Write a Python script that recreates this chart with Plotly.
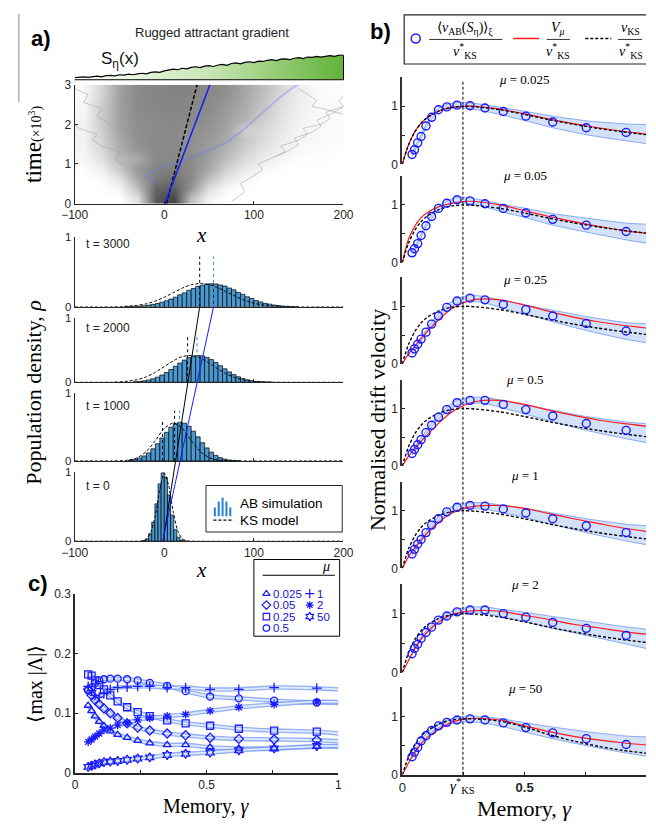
import plotly.graph_objects as go

W, H = 656, 831
SANS = "Liberation Sans, Arial, sans-serif"
SERIF = "Liberation Serif, Times New Roman, serif"
AXC = "#262626"
BLUE = "#1a1aff"
HISTC = "#4a98d0"

# ====================== DATA ======================
# --- panel a: rugged attractant profile S_eta(x)
grad_x = [-100,-95,-90,-85,-80,-75,-70,-65,-60,-55,-50,-45,-40,-35,-30,-25,-20,-15,-10,-5,0,5,10,15,20,25,30,35,40,45,50,55,60,65,70,75,80,85,90,95,100,105,110,115,120,125,130,135,140,145,150,155,160,165,170,175,180,185,190,195,200]
grad_s = [0.07,0.09,0.10,0.08,0.11,0.12,0.10,0.14,0.15,0.13,0.17,0.16,0.19,0.17,0.20,0.22,0.20,0.25,0.27,0.25,
          0.30,0.33,0.36,0.34,0.39,0.37,0.42,0.44,0.41,0.46,0.48,0.45,0.50,0.52,0.49,0.55,0.57,0.54,0.59,0.61,
          0.58,0.63,0.62,0.66,0.68,0.65,0.70,0.71,0.68,0.73,0.75,0.72,0.77,0.76,0.79,0.77,0.80,0.82,0.79,0.83,0.84]

# --- panel a: trajectory density (grey cloud)
heat_x = [-90,-70,-50,-30,-10,10,30,50,70,90,110,130,150,170,190]
heat_t = [0.125,0.375,0.625,0.875,1.125,1.375,1.625,1.875,2.125,2.375,2.625,2.875]
heat_z = [
    [0,0,0,0.15,0.78,0.88,0.30,0.05,0,0,0,0,0,0,0],
    [0,0,0.04,0.30,0.72,0.76,0.50,0.15,0.03,0,0,0,0,0,0],
    [0,0.02,0.14,0.42,0.62,0.66,0.55,0.30,0.12,0.04,0,0,0,0,0],
    [0.01,0.07,0.26,0.48,0.58,0.60,0.55,0.40,0.22,0.10,0.04,0.01,0,0,0],
    [0.04,0.14,0.33,0.40,0.55,0.56,0.55,0.45,0.30,0.17,0.09,0.04,0.01,0.01,0],
    [0.05,0.18,0.38,0.50,0.55,0.55,0.52,0.46,0.35,0.23,0.13,0.07,0.03,0.02,0.01],
    [0.06,0.21,0.41,0.52,0.55,0.55,0.52,0.48,0.40,0.27,0.17,0.09,0.04,0.03,0.02],
    [0.06,0.23,0.43,0.53,0.55,0.55,0.53,0.50,0.42,0.22,0.19,0.11,0.05,0.03,0.02],
    [0.05,0.24,0.44,0.54,0.55,0.56,0.55,0.52,0.45,0.35,0.23,0.13,0.06,0.03,0.02],
    [0.04,0.24,0.45,0.55,0.56,0.57,0.56,0.54,0.47,0.38,0.26,0.15,0.07,0.03,0.02],
    [0.03,0.22,0.45,0.55,0.57,0.58,0.57,0.55,0.50,0.40,0.29,0.17,0.08,0.03,0.02],
    [0.03,0.20,0.44,0.55,0.57,0.58,0.58,0.56,0.52,0.42,0.31,0.19,0.09,0.02,0.01],
]
# faint individual trajectories
path1_x = [75,90,85,100,110,105,120,135,130,150,160,155,175,185,180,200]
path1_t = [0.05,0.3,0.5,0.7,0.85,1.0,1.15,1.3,1.45,1.6,1.75,1.9,2.0,2.15,2.3,2.45]
path2_x = [125,140,150,145,165,175,170,190,200,195,200]
path2_t = [1.2,1.35,1.5,1.65,1.8,1.95,2.1,2.3,2.45,2.6,2.7]
path3_x = [-40,-55,-50,-70,-80,-75,-95,-100]
path3_t = [0.9,1.1,1.3,1.45,1.6,1.75,1.9,2.0]
path4_x = [-60,-75,-70,-90,-85,-100]
path4_t = [2.0,2.2,2.4,2.55,2.75,2.9]
path5_x = [150,160,170,165,185,200]
path5_t = [2.9,2.75,2.6,2.45,2.35,2.25]
blue_path_x = [-10,-20,-5,10,30,50,70,85,100,115,130,145,150]
blue_path_t = [0.5,0.7,0.9,1.0,1.15,1.35,1.55,1.8,2.1,2.4,2.7,2.95,3.0]
mean_t = [0, 3]
ab_mean_x = [0.7, 50.9]
ks_mean_x = [2.5, 36.6]

# --- panel a: population density histograms
h3000_x = [-42.5,-37.5,-32.5,-27.5,-22.5,-17.5,-12.5,-7.5,-2.5,2.5,7.5,12.5,17.5,22.5,27.5,32.5,37.5,42.5,47.5,52.5,57.5,62.5,67.5,72.5,77.5,82.5,87.5,92.5,97.5,102.5,107.5,112.5,117.5,122.5,127.5,132.5,137.5,142.5,147.5]
h3000_y = [0.003,0.005,0.007,0.011,0.017,0.025,0.036,0.048,0.067,0.086,0.112,0.139,0.172,0.2,0.237,0.263,0.293,0.31,0.327,0.331,0.328,0.313,0.298,0.27,0.244,0.208,0.18,0.144,0.12,0.09,0.071,0.05,0.039,0.026,0.019,0.011,0.008,0.005,0.003]
ks3000_x = [-100,-70,-60,-50,-40,-30,-20,-10,0,10,20,30,40,50,60,70,80,90,100,110,120,130,140,150,200]
ks3000_y = [0,0.0,0.001,0.004,0.01,0.022,0.045,0.083,0.138,0.203,0.268,0.317,0.335,0.318,0.272,0.21,0.148,0.093,0.053,0.027,0.012,0.005,0.002,0.0,0]
h2000_x = [-32.5,-27.5,-22.5,-17.5,-12.5,-7.5,-2.5,2.5,7.5,12.5,17.5,22.5,27.5,32.5,37.5,42.5,47.5,52.5,57.5,62.5,67.5,72.5,77.5,82.5,87.5,92.5,97.5,102.5,107.5,112.5,117.5]
h2000_y = [0.008,0.014,0.022,0.036,0.055,0.08,0.113,0.153,0.2,0.25,0.3,0.347,0.385,0.41,0.42,0.413,0.39,0.355,0.31,0.26,0.21,0.162,0.12,0.086,0.059,0.039,0.025,0.015,0.009,0.005,0.003]
ks2000_x = [-100,-60,-50,-40,-30,-20,-10,0,10,20,30,40,50,60,70,80,90,100,110,120,200]
ks2000_y = [0,0.001,0.006,0.018,0.042,0.086,0.156,0.245,0.336,0.402,0.42,0.38,0.3,0.208,0.125,0.066,0.03,0.012,0.004,0.001,0]
h1000_x = [-37.5,-32.5,-27.5,-22.5,-17.5,-12.5,-7.5,-2.5,2.5,7.5,12.5,17.5,22.5,27.5,32.5,37.5,42.5,47.5,52.5,57.5,62.5,67.5,72.5,77.5,82.5]
h1000_y = [0.012,0.023,0.043,0.073,0.118,0.178,0.253,0.337,0.422,0.497,0.549,0.57,0.556,0.511,0.439,0.355,0.269,0.192,0.129,0.081,0.048,0.027,0.014,0.007,0.003]
ks1000_x = [-100,-60,-50,-40,-30,-20,-10,0,10,20,30,40,50,60,70,80,200]
ks1000_y = [0,0.0,0.002,0.012,0.047,0.14,0.3,0.48,0.56,0.48,0.3,0.14,0.047,0.012,0.002,0.0,0]
h0_x = [-22.75,-19.25,-15.75,-12.25,-8.75,-5.25,-1.75,1.75,5.25,8.75,12.25,15.75,19.25,22.75]
h0_y = [0.008,0.033,0.108,0.275,0.542,0.832,0.994,0.926,0.671,0.379,0.167,0.057,0.015,0.003]
ks0_x = [-100,-30,-25,-20,-15,-10,-5,0,5,10,15,20,25,30,200]
ks0_y = [0,0.0,0.004,0.03,0.13,0.37,0.75,0.99,0.8,0.42,0.15,0.035,0.005,0.0,0]
hist_labels = ["t = 3000", "t = 2000", "t = 1000", "t = 0"]
# mean markers (x position, height) per histogram
ks_mark = [[39.5, 0.72], [26, 0.75], [11.5, 0.74], None]
ks_mark_extra = [None, None, [-2, 0.6], None]
ab_mark = [[55, 0.72], [36.5, 0.75], [17, 0.74], None]

# --- panel b: normalised drift velocity
mu_labels = ["0.025", "0.05", "0.25", "0.5", "1", "2", "50"]
gamma_b = [0.04,0.05,0.063,0.077,0.097,0.12,0.148,0.182,0.224,0.277,0.338,0.413,0.505,0.615,0.752,0.915]
ab_0025 = [0.17,0.25,0.37,0.48,0.66,0.81,0.94,0.99,1.02,1.01,0.97,0.91,0.83,0.73,0.63,0.55]
ab_005  = [0.17,0.24,0.33,0.47,0.64,0.80,0.94,1.03,1.09,1.07,1.02,0.94,0.86,0.75,0.65,0.54]
ab_025  = [0.19,0.26,0.34,0.43,0.55,0.69,0.83,0.98,1.09,1.14,1.11,1.03,0.94,0.83,0.70,0.57]
ab_05   = [0.22,0.29,0.37,0.46,0.58,0.71,0.85,0.98,1.10,1.14,1.14,1.07,0.98,0.87,0.74,0.62]
ab_1    = [0.25,0.33,0.42,0.50,0.62,0.75,0.86,0.98,1.06,1.09,1.08,1.03,0.96,0.86,0.74,0.62]
ab_2    = [0.32,0.41,0.48,0.58,0.68,0.77,0.89,0.96,1.03,1.06,1.06,1.00,0.94,0.85,0.75,0.63]
ab_50   = [0.31,0.39,0.47,0.58,0.67,0.76,0.84,0.90,0.94,0.96,0.94,0.89,0.81,0.72,0.62,0.52]
band_end = [0.52, 0.50, 0.53, 0.57, 0.575, 0.57, 0.485]     # band centre at gamma = 1
band_hw = [0.03,0.03,0.03,0.03,0.03,0.035,0.035,0.04,0.045,0.05,0.055,0.065,0.08,0.1,0.12,0.145,0.165]
gamma_curve = [0,0.025,0.05,0.075,0.1,0.15,0.2,0.25,0.3,0.4,0.5,0.6,0.7,0.8,0.9,1.0]
vmu_0025 = [0,0.33,0.55,0.70,0.80,0.92,0.98,1.00,1.00,0.95,0.87,0.78,0.70,0.63,0.57,0.52]
vmu_005  = [0,0.40,0.62,0.77,0.86,0.97,1.03,1.06,1.06,1.00,0.90,0.80,0.71,0.63,0.56,0.51]
vmu_025  = [0,0.17,0.30,0.43,0.55,0.77,0.95,1.06,1.12,1.11,1.02,0.91,0.81,0.73,0.67,0.62]
vmu_05   = [0,0.17,0.30,0.42,0.53,0.75,0.93,1.05,1.12,1.14,1.07,0.97,0.88,0.80,0.74,0.69]
vmu_1    = [0,0.20,0.35,0.48,0.60,0.80,0.95,1.04,1.08,1.09,1.04,0.95,0.86,0.78,0.70,0.64]
vmu_2    = [0,0.20,0.40,0.56,0.68,0.86,0.98,1.03,1.05,1.04,0.97,0.90,0.82,0.76,0.70,0.65]
vmu_50   = [0,0.20,0.38,0.52,0.63,0.78,0.90,0.95,0.97,0.94,0.84,0.74,0.66,0.60,0.55,0.51]
vks_std  = [0,0.33,0.55,0.70,0.80,0.92,0.98,1.00,0.99,0.94,0.86,0.77,0.69,0.62,0.56,0.51]
vks_50   = [0,0.30,0.50,0.65,0.75,0.87,0.94,0.96,0.96,0.92,0.82,0.69,0.58,0.49,0.42,0.37]
gamma_star = 0.248

# --- panel c: <max|Lambda|>
gamma_c = [0.05,0.063,0.076,0.092,0.11,0.134,0.162,0.198,0.238,0.284,0.35,0.42,0.513,0.622,0.756,0.918]
lam_0025 = [0.113,0.104,0.095,0.086,0.079,0.070,0.064,0.059,0.054,0.050,0.047,0.047,0.043,0.041,0.041,0.044]
lam_005  = [0.140,0.130,0.122,0.115,0.108,0.100,0.092,0.083,0.076,0.071,0.066,0.063,0.059,0.057,0.056,0.055]
lam_025  = [0.165,0.163,0.155,0.147,0.140,0.130,0.120,0.110,0.102,0.095,0.088,0.083,0.079,0.074,0.071,0.069]
lam_05   = [0.138,0.143,0.150,0.155,0.157,0.158,0.158,0.157,0.155,0.151,0.146,0.137,0.128,0.125,0.121,0.118]
lam_1    = [0.145,0.138,0.130,0.127,0.133,0.140,0.143,0.144,0.145,0.145,0.143,0.143,0.140,0.140,0.143,0.142]
lam_2    = [0.052,0.056,0.061,0.066,0.072,0.075,0.080,0.084,0.089,0.092,0.095,0.098,0.104,0.110,0.115,0.119]
lam_50   = [0.010,0.012,0.014,0.016,0.018,0.019,0.020,0.022,0.024,0.026,0.030,0.032,0.034,0.038,0.041,0.045]
lam_end  = [0.044, 0.053, 0.066, 0.117, 0.140, 0.119, 0.045]   # band value at gamma = 1
c_symbols = ["triangle-up-open", "diamond-open", "square-open", "circle-open",
             "cross-thin-open", "asterisk-open", "hexagram-open"]

# ====================== FIGURE ======================
fig = go.Figure()

def xdom(a, b):
    return [a / W, min(b / W, 1.0)]

def ydom(top, bottom):
    return [1 - bottom / H, 1 - top / H]

base_ax = dict(showline=True, linecolor=AXC, linewidth=1, ticks="inside", ticklen=3,
               tickcolor=AXC, tickwidth=1, showgrid=False, zeroline=False,
               tickfont=dict(family=SANS, size=12, color=AXC), fixedrange=True)

layout = dict(width=W, height=H, margin=dict(l=0, r=0, t=0, b=0),
              paper_bgcolor="white", plot_bgcolor="rgba(0,0,0,0)", showlegend=False)

# strip
layout["xaxis"] = dict(domain=xdom(63, 342), range=[-100, 200], visible=False, anchor="y", fixedrange=True)
layout["yaxis"] = dict(domain=ydom(44, 74), range=[0, 1], visible=False, anchor="x", fixedrange=True)
# trajectories
layout["xaxis2"] = dict(base_ax, domain=xdom(63, 342), range=[-100, 200], tickvals=[-100, 0, 100, 200], anchor="y2")
layout["yaxis2"] = dict(base_ax, domain=ydom(79, 200), range=[0, 3], tickvals=[0, 1, 2, 3], anchor="x2")
# histograms
hist_dom = [(234, 305), (316.7, 381.7), (392.7, 461.7), (473.3, 543.3)]
for k, (tp, bt) in enumerate(hist_dom):
    n = 3 + k
    layout[f"xaxis{n}"] = dict(base_ax, domain=xdom(63, 342), range=[-100, 200], tickvals=[-100, 0, 100, 200],
                               showticklabels=(k == 3), anchor=f"y{n}")
    layout[f"yaxis{n}"] = dict(base_ax, domain=ydom(tp, bt), range=[0, 1], tickvals=[0, 1], anchor=f"x{n}",
                               tickfont=dict(family=SANS, size=11.5, color=AXC))
# panel c
layout["xaxis7"] = dict(base_ax, domain=xdom(63.3, 336.7), range=[0, 1], tickvals=[0, 0.25, 0.5, 0.75, 1],
                        ticktext=["0", "", "0.5", "", "1"], linewidth=1.5, anchor="y7")
layout["yaxis7"] = dict(base_ax, domain=ydom(597, 779), range=[0, 0.3], tickvals=[0, 0.1, 0.2, 0.3],
                        ticktext=["0", "0.1", "0.2", "0.3"], linewidth=1.5, anchor="x7")
# panel b
pb_top = [71.5, 172, 275, 379, 483, 587, 692]
pb_base = [160, 260, 363, 467, 571, 677, 781]
xr_b = [0, (W - 403) / 254.0]
for i in range(7):
    n = 8 + i
    if i < 6:
        layout[f"xaxis{n}"] = dict(domain=xdom(403, W), range=xr_b, visible=False, anchor=f"y{n}", fixedrange=True)
    else:
        layout[f"xaxis{n}"] = dict(base_ax, domain=xdom(403, W), range=xr_b, tickvals=[0, 0.25, 0.5, 0.75],
                                   ticktext=["0", "", "<b>0.5</b>", ""], linewidth=1.5,
                                   tickfont=dict(family=SANS, size=13, color=AXC), anchor=f"y{n}")
    layout[f"yaxis{n}"] = dict(base_ax, domain=ydom(pb_top[i], pb_base[i]), range=[0, 1.5],
                               tickvals=[0, 0.5, 1, 1.5], ticktext=["0", "", "1", ""],
                               linewidth=2, linecolor="#333333", anchor=f"x{n}")
# pixel overlay
layout["xaxis15"] = dict(domain=[0, 1], range=[0, W], visible=False, anchor="y15", fixedrange=True)
layout["yaxis15"] = dict(domain=[0, 1], range=[H, 0], visible=False, anchor="x15", fixedrange=True)

# ---- strip
fig.add_trace(go.Scatter(x=grad_x, y=grad_s, mode="lines", line=dict(color="black", width=1.2),
                         fill="tozeroy",
                         fillgradient=dict(type="horizontal",
                                           colorscale=[[0, "rgb(255,255,255)"], [0.5, "rgb(200,230,180)"], [1, "rgb(98,178,58)"]]),
                         xaxis="x", yaxis="y", hoverinfo="skip"))

# ---- trajectories
fig.add_trace(go.Heatmap(x=heat_x, y=heat_t, z=heat_z, zsmooth="best", zmin=0, zmax=1,
                         colorscale=[[0, "#ffffff"], [1, "#2a2a2a"]], showscale=False,
                         xaxis="x2", yaxis="y2", hoverinfo="skip"))
for px_, pt_ in [(path1_x, path1_t), (path2_x, path2_t), (path3_x, path3_t), (path4_x, path4_t), (path5_x, path5_t)]:
    fig.add_trace(go.Scatter(x=px_, y=pt_, mode="lines", line=dict(color="rgba(160,160,160,0.55)", width=1),
                             xaxis="x2", yaxis="y2", hoverinfo="skip"))
fig.add_trace(go.Scatter(x=blue_path_x, y=blue_path_t, mode="lines", line=dict(color="rgba(110,120,255,0.35)", width=2),
                         xaxis="x2", yaxis="y2", hoverinfo="skip"))
fig.add_trace(go.Scatter(x=ks_mean_x, y=mean_t, mode="lines", line=dict(color="black", width=1.5, dash="4px,2px"),
                         xaxis="x2", yaxis="y2", hoverinfo="skip"))
fig.add_trace(go.Scatter(x=ab_mean_x, y=mean_t, mode="lines", line=dict(color=BLUE, width=1.5),
                         xaxis="x2", yaxis="y2", hoverinfo="skip"))

# ---- histograms
hists = [(h3000_x, h3000_y, ks3000_x, ks3000_y, 5), (h2000_x, h2000_y, ks2000_x, ks2000_y, 5),
         (h1000_x, h1000_y, ks1000_x, ks1000_y, 5), (h0_x, h0_y, ks0_x, ks0_y, 3.5)]
shapes = []
for k, (hx, hy, kx, ky, bw) in enumerate(hists):
    n = 3 + k
    fig.add_trace(go.Bar(x=hx, y=hy, width=bw, marker=dict(color=HISTC, line=dict(color="black", width=0.7)),
                         xaxis=f"x{n}", yaxis=f"y{n}", hoverinfo="skip"))
    fig.add_trace(go.Scatter(x=kx, y=ky, mode="lines", line=dict(color="black", width=1, dash="3px,2px", shape="spline", smoothing=0.6),
                             xaxis=f"x{n}", yaxis=f"y{n}", hoverinfo="skip"))
    for mk, col in [(ks_mark[k], "black"), (ks_mark_extra[k], "black"), (ab_mark[k], "#2f8fd8")]:
        if mk is not None:
            shapes.append(dict(type="line", xref=f"x{n}", yref=f"y{n}", x0=mk[0], x1=mk[0], y0=0, y1=mk[1],
                               line=dict(color=col, width=1, dash="dot")))

# diagonal mean lines across histograms
shapes.append(dict(type="line", xref="x3", yref="y15", x0=ks_mean_x[0] - 3.6, y0=541.7, x1=ks_mark[0][0], y1=305,
                   line=dict(color="black", width=1)))
shapes.append(dict(type="line", xref="x3", yref="y15", x0=ab_mean_x[0] - 2.5, y0=543.3, x1=ab_mark[0][0], y1=305,
                   line=dict(color=BLUE, width=1)))

# ---- panel c
lam_all = [lam_0025, lam_005, lam_025, lam_05, lam_1, lam_2, lam_50]
for j, vals in enumerate(lam_all):
    xs = gamma_c + [1.0]
    ys = vals + [lam_end[j]]
    fig.add_trace(go.Scatter(x=xs, y=ys, mode="lines", line=dict(color="rgba(110,150,240,0.75)", width=4.5, shape="spline", smoothing=0.5),
                             xaxis="x7", yaxis="y7", hoverinfo="skip"))
    fig.add_trace(go.Scatter(x=xs, y=ys, mode="lines", line=dict(color="rgba(226,235,253,1)", width=1.8, shape="spline", smoothing=0.5),
                             xaxis="x7", yaxis="y7", hoverinfo="skip"))
for j, vals in enumerate(lam_all):
    fig.add_trace(go.Scatter(x=gamma_c, y=vals, mode="markers",
                             marker=dict(symbol=c_symbols[j], size=7, color=BLUE, line=dict(color=BLUE, width=1.3)),
                             xaxis="x7", yaxis="y7", hoverinfo="skip"))

# ---- panel b
ab_all = [ab_0025, ab_005, ab_025, ab_05, ab_1, ab_2, ab_50]
vmu_all = [vmu_0025, vmu_005, vmu_025, vmu_05, vmu_1, vmu_2, vmu_50]
vks_all = [vks_std, vks_std, vks_std, vks_std, vks_std, vks_std, vks_50]
for i in range(7):
    n = 8 + i
    gx = gamma_b + [1.0]
    cen = ab_all[i] + [band_end[i]]
    lo = [c - h for c, h in zip(cen, band_hw)]
    hi = [c + h for c, h in zip(cen, band_hw)]
    fig.add_trace(go.Scatter(x=gx, y=lo, mode="lines", line=dict(color="#86aaf2", width=1, shape="spline", smoothing=0.5),
                             xaxis=f"x{n}", yaxis=f"y{n}", hoverinfo="skip"))
    fig.add_trace(go.Scatter(x=gx, y=hi, mode="lines", line=dict(color="#86aaf2", width=1, shape="spline", smoothing=0.5),
                             fill="tonexty", fillcolor="rgba(140,175,240,0.38)",
                             xaxis=f"x{n}", yaxis=f"y{n}", hoverinfo="skip"))
    fig.add_trace(go.Scatter(x=gamma_curve, y=vmu_all[i], mode="lines",
                             line=dict(color="#ff1a1a", width=1.2, shape="spline", smoothing=0.8),
                             xaxis=f"x{n}", yaxis=f"y{n}", hoverinfo="skip"))
    fig.add_trace(go.Scatter(x=gamma_curve, y=vks_all[i], mode="lines",
                             line=dict(color="black", width=1.4, dash="3px,2px", shape="spline", smoothing=0.8),
                             xaxis=f"x{n}", yaxis=f"y{n}", hoverinfo="skip"))
    fig.add_trace(go.Scatter(x=gamma_b, y=ab_all[i], mode="markers",
                             marker=dict(symbol="circle-open", size=8, color=BLUE, line=dict(color=BLUE, width=1.4)),
                             xaxis=f"x{n}", yaxis=f"y{n}", hoverinfo="skip"))

shapes.append(dict(type="line", xref="x8", yref="y15", x0=gamma_star, x1=gamma_star, y0=76, y1=781,
                   line=dict(color="black", width=1, dash="3px,2px")))

# ---- legend / decoration in pixel space
fig.add_trace(go.Scatter(x=[417], y=[32], mode="markers",
                         marker=dict(symbol="circle-open", size=9, color=BLUE, line=dict(color=BLUE, width=1.5)),
                         xaxis="x15", yaxis="y15", hoverinfo="skip"))
legc_pos = [(262, 596.7), (262, 608.3), (262, 620), (262, 631.7), (307, 596.7), (307, 608.3), (307, 620)]
for j, (lx, ly) in enumerate(legc_pos):
    fig.add_trace(go.Scatter(x=[lx], y=[ly], mode="markers",
                             marker=dict(symbol=c_symbols[j], size=6.5, color=BLUE, line=dict(color=BLUE, width=1.2)),
                             xaxis="x15", yaxis="y15", hoverinfo="skip"))

def pl(x0, y0, x1, y1, color="black", width=1, dash=None):
    ln = dict(color=color, width=width)
    if dash:
        ln["dash"] = dash
    shapes.append(dict(type="line", xref="x15", yref="y15", x0=x0, y0=y0, x1=x1, y1=y1, line=ln))

def prect(x0, y0, x1, y1, color="black", width=1, fill=None):
    d = dict(type="rect", xref="x15", yref="y15", x0=x0, y0=y0, x1=x1, y1=y1, line=dict(color=color, width=width))
    if fill:
        d["fillcolor"] = fill
    shapes.append(d)

pl(5, 7, 5, 97, color="#b0b0b0", width=1.5)          # faint left rule
pl(63, 74, 342, 74, width=1)                          # strip baseline
pl(342, 49, 342, 74, width=1)                         # strip right edge
# histogram legend
prect(199.3, 486.7, 340.7, 534, color=AXC, width=1, fill="white")
for bx, btop in [(208.5, 509), (212.5, 503), (216.5, 499), (220.5, 503), (224.5, 509)]:
    pl(bx, 518, bx, btop, color="#2a7fd0", width=2)
pl(207, 522, 228, 522, width=1.2, dash="3px,2px")
# panel c legend
prect(249, 562, 338, 640, color="black", width=1)
pl(258, 578, 333, 578, width=1)
# panel b legend
prect(405, 8, 680, 58, color=AXC, width=1.2)
pl(431, 33, 507, 33, width=0.8)
pl(518, 32, 545, 32, color="#ff1a1a", width=1.5)
pl(553, 33, 577, 33, width=0.8)
pl(593, 32, 620, 32, width=1.5, dash="3px,2px")
pl(627, 33, 652, 33, width=0.8)

ann = []

def A(x, y, text, size=12, family=SANS, color="black", xanchor="center", angle=0, yanchor="middle"):
    ann.append(dict(x=x, y=y, xref="x15", yref="y15", text=text, showarrow=False, xanchor=xanchor, yanchor=yanchor,
                    textangle=angle, font=dict(family=family, size=size, color=color)))

A(28, 32, "<b>a)</b>", size=22)
A(380, 25, "<b>b)</b>", size=22)
A(25, 586, "<b>c)</b>", size=22)
A(205, 26, "Rugged attractant gradient", size=13, color="#222222")
A(110, 54, "S<sub>η</sub>(x)", size=17, color="#111111")
A(20, 140, "time<span style='font-size:14px'>(×10<sup>3</sup>)</span>", size=23, family=SERIF, angle=-90)
A(195, 232, "<i>x</i>", size=21, family=SERIF)
A(195, 573, "<i>x</i>", size=21, family=SERIF)
A(20, 392, "Population density, <i>ρ</i>", size=22, family=SERIF, angle=-90)
for k, yl in enumerate([241, 326, 406, 487]):
    A(73, yl, hist_labels[k], size=12, xanchor="left", color="#222222")
A(233, 504.5, "AB simulation", size=13.5, xanchor="left")
A(233, 522, "KS model", size=13.5, xanchor="left")
# panel c
A(22, 688, "⟨max |Λ|⟩", size=20, family=SERIF, angle=-90)
A(200, 813, "Memory, <i>γ</i>", size=20, family=SERIF)
A(324, 569, "<i>μ</i>", size=14, family=SERIF)
for j, (lx, ly) in enumerate(legc_pos):
    A(lx + 5, ly, mu_labels[j], size=11.5, xanchor="left", color="#1515c8")
# panel b
A(378, 420, "Normalised drift velocity", size=22, family=SERIF, angle=-90)
A(530, 815, "Memory, <i>γ</i>", size=22, family=SERIF)
for i, yt in enumerate([74, 171, 277, 379, 477, 587, 693]):
    A(530, yt, "<i>μ</i> = " + mu_labels[i], size=13, family=SERIF)
A(466, 792, "<i>γ</i><sup>*</sup><sub>KS</sub>", size=15, family=SERIF)
A(468, 22, "⟨<i>v</i><sub>AB</sub>(<i>S</i><sub>η</sub>)⟩<sub>ξ</sub>", size=14, family=SERIF)
A(468, 45, "<i>v</i><sup>*</sup><sub>KS</sub>", size=14, family=SERIF)
A(565, 22, "<i>V</i><sub><i>μ</i></sub>", size=14, family=SERIF)
A(565, 45, "<i>v</i><sup>*</sup><sub>KS</sub>", size=14, family=SERIF)
A(640, 22, "<i>v</i><sub>KS</sub>", size=14, family=SERIF)
A(640, 45, "<i>v</i><sup>*</sup><sub>KS</sub>", size=14, family=SERIF)

layout["shapes"] = shapes
layout["annotations"] = ann
fig.update_layout(**layout)
fig.write_html("out.html")
